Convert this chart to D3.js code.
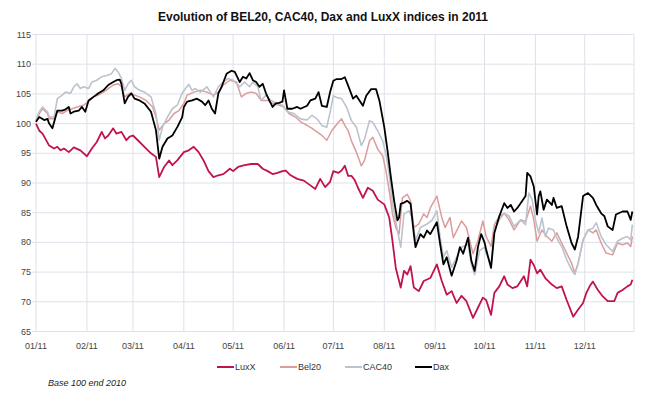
<!DOCTYPE html>
<html>
<head>
<meta charset="utf-8">
<script src="https://cdn.jsdelivr.net/npm/d3@7"></script>
<style>
  body { margin: 0; background: #fff; }
  svg { display: block; font-family: "Liberation Sans", Arial, sans-serif; }
</style>
</head>
<body>
<svg id="chart" width="650" height="398"></svg>
<script>
// values are [day of 2011 (0 = 1 Jan), index level], base 100 end 2010
var monthLabels = ["01/11","02/11","03/11","04/11","05/11","06/11","07/11","08/11","09/11","10/11","11/11","12/11"];
var yTicks = [65,70,75,80,85,90,95,100,105,110,115];

var luxx = [[0,100],[2,98.8],[4,98.3],[5,97.8],[8,96.3],[11,95.8],[13,96.1],[15,95.5],[17,95.8],[20,95.2],[23,96],[27,95.5],
  [31,94.5],[34,95.8],[37,96.9],[40,98.6],[42,97.5],[44,98],[47,99.2],[49,98.3],[52,98.6],[55,97.2],[57,97.8],[59,98],
  [62,97.2],[66,96.1],[70,95],[73,94.4],[75,91],[78,92.7],[81,93.8],[83,93],[86,93.8],[90,95.2],[93,95.5],[96,96.1],
  [99,95.2],[102,93.8],[105,92],[108,91],[111,91.3],[114,91.5],[118,92.4],[120,92],[123,92.7],[127,93],[131,93.2],
  [135,93.2],[138,92.4],[141,92],[144,91.5],[147,91.7],[150,92],[152,92.1],[155,91.3],[159,90.7],[163,90.4],[167,89.6],
  [170,89],[173,90.7],[176,89.3],[179,90.2],[181,92],[184,91.7],[186,92.1],[188,92.9],[190,91.2],[192,91.2],[194,90.5],
  [196,89.2],[199,87.5],[202,89.2],[205,88.7],[208,87.2],[212,86.4],[215,84.2],[217,80.2],[219,75.7],[222,72.4],
  [224,75.2],[226,74.6],[228,76],[230,72.4],[233,71.8],[236,73.5],[240,74],[244,76.3],[247,73.5],[250,71.2],[253,71.8],
  [256,69.8],[259,71],[262,70.1],[266,67.3],[269,69],[272,70.7],[274,70.3],[277,67.8],[279,71.5],[282,72.6],[285,74.3],
  [287,72.9],[290,72.3],[293,72.6],[297,74.3],[299,72.6],[301,77.1],[303,76.2],[305,74.8],[307,75.4],[310,74],[314,72.9],
  [317,72.3],[320,72.6],[323,70.3],[327,67.5],[330,68.7],[333,69.8],[335,71.5],[337,72.6],[339,73.4],[342,72],[345,70.9],
  [348,70.1],[352,70.1],[354,71.5],[357,72],[360,72.6],[362,72.9],[363,73.7]];

var bel20 = [[0,100.3],[2,101.7],[4,102.5],[7,101.7],[8,100.8],[11,100.8],[13,102],[16,101.7],[19,102.2],[22,102.5],
  [25,102.8],[29,103.1],[32,103.7],[35,104.5],[38,104.8],[41,105.3],[44,105.9],[47,106.5],[50,106.7],[52,106.2],
  [54,104.5],[57,105.1],[60,104.8],[63,104.5],[67,103.9],[71,102.8],[73,101.1],[75,98.9],[78,100],[81,100.6],[84,101.7],
  [87,102.2],[90,103.4],[92,104.8],[96,105.3],[100,105.6],[104,105.3],[108,104.8],[111,105.3],[114,106.5],[118,107.3],
  [122,107],[125,104.5],[128,105.1],[131,105.3],[134,105.1],[137,103.9],[141,103.9],[144,103.4],[148,103.1],[151,102.8],
  [154,101.7],[158,101.1],[161,100.3],[165,99.7],[168,99.2],[171,98.6],[174,98],[177,97.2],[180,98.8],[184,100.2],
  [186,100.8],[188,99.7],[190,98.8],[192,97.1],[195,95.2],[198,92.9],[200,93.8],[203,97.1],[205,97.7],[208,95.7],
  [211,94.6],[213,92.1],[215,88.7],[217,84.8],[219,82.5],[221,81.4],[223,87.5],[226,88.1],[228,87],[230,82.5],[233,83.1],
  [236,84.8],[238,84.2],[240,85.8],[244,87.8],[247,84.2],[249,82.5],[252,84.2],[254,80.8],[257,82.5],[259,83.6],
  [262,82.5],[264,80.3],[266,78.1],[269,80.3],[272,83.6],[274,81],[277,79.3],[279,83],[282,84.4],[285,84.9],[288,83.8],
  [291,82.1],[295,83.8],[298,83.5],[301,86.1],[303,83.8],[305,80.2],[308,82.1],[311,81],[314,80.2],[317,81.6],[320,79.9],
  [323,78.2],[326,76.5],[328,74.8],[330,76.5],[333,80.4],[336,82.1],[339,81.6],[341,82.1],[344,79.9],[347,78.2],
  [351,77.9],[354,79.9],[357,79.6],[360,79.9],[362,79.3],[363,81]];

var cac40 = [[0,100.6],[2,102],[4,102.8],[7,102],[8,101.1],[11,101.1],[13,104.2],[16,104.8],[18,105.3],[21,105.1],
  [23,106.2],[25,106.7],[27,105.9],[29,106.2],[32,105.9],[34,107],[37,107.3],[40,107.9],[43,108.1],[46,108.4],[48,109.3],
  [50,108.7],[52,107.6],[54,105.6],[56,106.7],[58,107.3],[60,106.2],[63,105.6],[66,105.3],[70,104.5],[73,101.7],[75,97.2],
  [77,99.4],[80,101.1],[83,102.5],[86,103.1],[89,105.1],[91,105.9],[93,106.6],[95,105.6],[97,105.9],[100,105.3],
  [104,106.2],[108,104.5],[111,106.2],[114,107],[117,107.6],[120,107.3],[124,106.2],[127,107],[130,106.2],[132,107],
  [135,106.2],[137,103.9],[140,104.8],[143,103.9],[147,103.4],[150,103.1],[153,102],[157,101.7],[161,100.8],[165,100.6],
  [168,101.4],[171,100.8],[174,99.7],[177,99.4],[179,101.9],[181,104.7],[183,104.4],[186,104.2],[189,102.8],[192,100.5],
  [195,99.4],[198,96.3],[200,97.4],[203,100.5],[205,100.2],[208,98.8],[211,97.1],[213,94.9],[215,91.5],[217,86.5],
  [220,82],[222,79.2],[224,84.8],[227,85.3],[229,84.2],[231,80.3],[234,82.5],[238,83.1],[241,83.7],[244,85.3],[246,80.8],
  [248,77.5],[250,78.6],[253,75.8],[256,77.5],[259,79.2],[263,79.7],[265,76.3],[267,74.6],[270,78.6],[273,79.2],
  [274,78.2],[277,76.2],[279,82.1],[282,83.8],[285,84.9],[288,84.4],[291,82.7],[295,83.8],[298,83],[300,88.3],[302,87.2],
  [304,83.8],[306,81.6],[308,84.1],[310,81],[312,82.4],[315,82.1],[317,80.7],[320,79.3],[323,77.1],[326,75.4],[328,74.6],
  [330,76.5],[333,80.4],[336,82.1],[339,82.4],[341,83.3],[344,81],[347,79.6],[351,78.5],[354,80.2],[357,80.7],[360,81],
  [362,80.4],[363,83]];

var dax = [[0,100.3],[2,101.1],[5,100.6],[7,100.8],[8,100],[10,99.2],[13,102.2],[16,102.2],[18,102.4],[20,102.8],
  [21,101.7],[23,102],[26,102.2],[28,102.8],[30,102],[32,103.9],[35,104.5],[38,105.1],[41,105.6],[44,106.5],[47,107],
  [49,107.3],[51,107.4],[52,106.7],[54,103.4],[56,104.5],[58,105.1],[60,104.2],[63,103.9],[66,103.4],[70,102],[73,98.9],
  [75,94.1],[77,96.1],[80,97.5],[83,98],[86,99.4],[89,101.1],[90,102.8],[92,103.7],[95,103.9],[98,104.2],[101,103.7],
  [103,103.1],[105,103.9],[107,102.5],[109,101.7],[111,105.1],[113,106.2],[116,108.4],[119,108.9],[121,108.7],[124,107],
  [126,107.9],[128,107.6],[130,108.5],[132,107.3],[134,107],[136,106.2],[138,106.7],[140,105.1],[142,103.9],[144,102.8],
  [146,103.4],[148,103.5],[150,103.7],[151,105.6],[153,102.5],[156,102.5],[159,102.8],[161,102.5],[165,103],[167,103.9],
  [170,104.2],[172,105.3],[174,103],[177,102.8],[179,105.3],[181,107.2],[183,107.5],[186,107.5],[188,107.8],[190,106.4],
  [193,104.2],[195,104.7],[199,103],[201,104.7],[204,105.8],[207,105.8],[209,103.9],[212,99.4],[214,95.4],[216,91],
  [218,87],[220,83.7],[221,84.2],[222,86.5],[224,86.7],[226,87],[228,86.5],[230,81.4],[231,79.2],[234,81.4],[236,80.8],
  [238,82],[240,81.4],[244,83.4],[246,79.7],[248,76.3],[250,77.5],[253,74.4],[256,76.9],[258,79.2],[260,78.1],[263,80.8],
  [265,76.9],[267,75.2],[269,79.2],[271,81.4],[273,80],[274,78.8],[277,75.7],[279,81.6],[282,84.4],[285,86.6],[287,85.8],
  [289,86.3],[291,85.2],[293,85.8],[295,86.6],[298,87.8],[299,91.7],[301,91.1],[303,89.4],[305,84.7],[306,87.8],
  [307,88.6],[309,85.5],[311,87.2],[314,86.3],[315,87.5],[317,85.8],[320,86.1],[323,82.7],[326,79.9],[328,78.8],[330,81],
  [333,87.8],[336,88.3],[339,87.5],[341,86.3],[344,84.9],[346,84.4],[348,82.7],[351,82.1],[353,84.7],[357,85.2],
  [360,85.2],[362,83.8],[363,85.2]];

var seriesNames = ["LuxX","Bel20","CAC40","Dax"];
var seriesValues = [luxx, bel20, cac40, dax];
var seriesColors = ["#c0134f","#dc9c9c","#bcc3cd","#000000"];
var seriesWidths = [1.8, 1.5, 1.6, 1.8];

var svg = d3.select("#chart");
var start = new Date(2011, 0, 1);
var toDate = function(d) { return d3.timeDay.offset(start, d); };

var x = d3.scaleTime()
    .domain([start, new Date(2011, 11, 31)])
    .range([36, 634]);
var y = d3.scaleLinear()
    .domain([65, 115])
    .range([331.5, 34.5]);

var months = d3.timeMonth.range(start, new Date(2012, 0, 1));

// grid
svg.append("g").selectAll("line").data(yTicks).enter().append("line")
    .attr("x1", 32).attr("x2", 634)
    .attr("y1", function(d) { return y(d); }).attr("y2", function(d) { return y(d); })
    .attr("stroke", "#dfe1ea").attr("stroke-width", 1);
svg.append("g").selectAll("line").data(months.concat([new Date(2011, 11, 31)])).enter().append("line")
    .attr("x1", function(d) { return x(d); }).attr("x2", function(d) { return x(d); })
    .attr("y1", 34.5).attr("y2", 331.5)
    .attr("stroke", "#dfe1ea").attr("stroke-width", 1);

// y labels
svg.append("g").selectAll("text").data(yTicks).enter().append("text")
    .attr("x", 31).attr("y", function(d) { return y(d) + 3; })
    .attr("text-anchor", "end")
    .style("font-size", "9px").style("fill", "#444")
    .text(function(d) { return d; });

// x labels
svg.append("g").selectAll("text").data(months).enter().append("text")
    .attr("x", function(d) { return x(d); }).attr("y", 349)
    .attr("text-anchor", "middle")
    .style("font-size", "9px").style("fill", "#444")
    .text(function(d, i) { return monthLabels[i]; });

// lines
var line = d3.line()
    .x(function(d) { return x(toDate(d[0])); })
    .y(function(d) { return y(d[1]); });

seriesValues.forEach(function(vals, i) {
  svg.append("path")
      .datum(vals)
      .attr("d", line)
      .attr("fill", "none")
      .attr("stroke", seriesColors[i])
      .attr("stroke-width", seriesWidths[i])
      .attr("stroke-linejoin", "round");
});

// legend
var legendX = [217, 280, 345, 415];
seriesNames.forEach(function(name, i) {
  svg.append("line")
      .attr("x1", legendX[i]).attr("x2", legendX[i] + 17)
      .attr("y1", 367).attr("y2", 367)
      .attr("stroke", seriesColors[i]).attr("stroke-width", 2);
  svg.append("text")
      .attr("x", legendX[i] + 18).attr("y", 370)
      .style("font-size", "9px").style("fill", "#333")
      .text(name);
});

svg.append("text")
    .attr("x", 323).attr("y", 21)
    .attr("text-anchor", "middle")
    .style("font-size", "12px").style("font-weight", "bold").style("fill", "#111")
    .text("Evolution of BEL20, CAC40, Dax and LuxX indices in 2011");

svg.append("text")
    .attr("x", 48).attr("y", 386)
    .style("font-size", "9px").style("font-style", "italic").style("fill", "#222")
    .text("Base 100 end 2010");
</script>
</body>
</html>
